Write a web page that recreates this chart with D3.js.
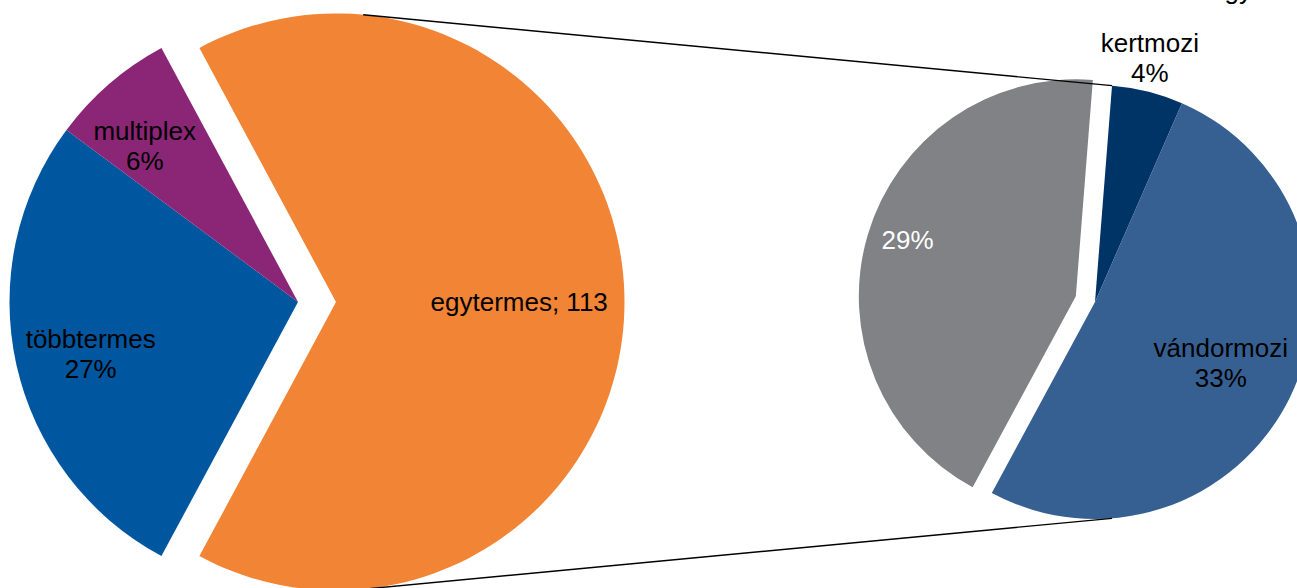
<!DOCTYPE html>
<html>
<head>
<meta charset="utf-8">
<script src="https://cdn.jsdelivr.net/npm/d3@7"></script>
<style>
  html, body { margin: 0; padding: 0; background: #ffffff; }
  svg { display: block; }
  text { font-family: "Liberation Sans", Arial, sans-serif; font-size: 26px; }
</style>
</head>
<body>
<svg id="chart" width="1297" height="588"></svg>
<script>
// ---- data ----
const mainCategories = ["egytermes", "többtermes", "multiplex"];
const mainValues = [113, 47, 12];
const mainLabels = [["egytermes; 113"], ["többtermes", "27%"], ["multiplex", "6%"]];

const subCategories = ["kertmozi", "vándormozi", "egyéb"];
const subValues = [6, 58, 49];
const subLabels = [["kertmozi", "4%"], ["vándormozi", "33%"], ["29%"]];

const mainColors = ["#F28435", "#00569F", "#8B2575"];
const subColors = ["#003366", "#366092", "#808285"];

// ---- layout ----
const W = 1297, H = 588;
const deg = Math.PI / 180;
const c1 = { x: 298, y: 302 }, r1 = 288.5, explode1 = 38;
const c2 = { x: 1095, y: 302 }, r2 = 217, explode2 = 20;
const subStart = 4.5 * deg;
const mainLabelPos = [{ f: 0.635, d: 0 }, { f: 0.741, d: -1.6 }, { f: 0.759, d: -3.6 }];
const subLabelPos = [{ f: 1.153, d: -1.4 }, { f: 0.645, d: 0 }, { f: 0.818, d: 2.2 }];
const subLabelFill = ["#000", "#000", "#fff"];
const lineH = 30;

const svg = d3.select("#chart");
svg.append("rect").attr("width", W).attr("height", H).attr("fill", "#fff");

const arc1 = d3.arc().innerRadius(0).outerRadius(r1);
const arc2 = d3.arc().innerRadius(0).outerRadius(r2);

// main pie: first slice (the "other" slice) centered on the right
const mainTotal = d3.sum(mainValues);
const otherSpan = mainValues[0] / mainTotal * 2 * Math.PI;
const mainStart = Math.PI / 2 - otherSpan / 2;
const pie1 = d3.pie().sort(null).value(d => d).startAngle(mainStart).endAngle(mainStart + 2 * Math.PI);
const pie2 = d3.pie().sort(null).value(d => d).startAngle(subStart).endAngle(subStart + 2 * Math.PI);

const mainArcs = pie1(mainValues);
const subArcs = pie2(subValues);

function offset(a, dist) {
  const m = (a.startAngle + a.endAngle) / 2;
  return { x: Math.sin(m) * dist, y: -Math.cos(m) * dist };
}

const explodeMain = i => i === 0 ? explode1 : 0;
const explodeSub = i => i === 2 ? explode2 : 0;

const g1 = svg.append("g");
mainArcs.forEach((a, i) => {
  const o = offset(a, explodeMain(i));
  g1.append("path")
    .attr("d", arc1(a))
    .attr("transform", `translate(${c1.x + o.x},${c1.y + o.y})`)
    .attr("fill", mainColors[i]);
});

const g2 = svg.append("g");
subArcs.forEach((a, i) => {
  const o = offset(a, explodeSub(i));
  g2.append("path")
    .attr("d", arc2(a))
    .attr("transform", `translate(${c2.x + o.x},${c2.y + o.y})`)
    .attr("fill", subColors[i]);
});

// connector lines: tangent from the exploded "other" slice to the sub pie top/bottom
const oc = offset(mainArcs[0], explode1);
const oC = { x: c1.x + oc.x, y: c1.y + oc.y };
function tangentPoint(P, C, r, upper) {
  const dx = P.x - C.x, dy = P.y - C.y;
  const d = Math.hypot(dx, dy);
  const phi = Math.atan2(dy, dx);
  const alpha = Math.acos(r / d);
  const t = upper ? phi - alpha : phi + alpha;
  return { x: C.x + r * Math.cos(t), y: C.y + r * Math.sin(t) };
}
const pTop = { x: c2.x + Math.sin(subStart) * r2, y: c2.y - Math.cos(subStart) * r2 };
const pBot = { x: c2.x + Math.sin(Math.PI - subStart) * r2, y: c2.y - Math.cos(Math.PI - subStart) * r2 };
[[tangentPoint(pTop, oC, r1, true), pTop], [tangentPoint(pBot, oC, r1, false), pBot]].forEach(([a, b]) => {
  svg.append("line")
    .attr("x1", a.x).attr("y1", a.y).attr("x2", b.x).attr("y2", b.y)
    .attr("stroke", "#000").attr("stroke-width", 1.4);
});

// labels
function drawLabel(lines, cx, cy, fill) {
  const t = svg.append("text").attr("text-anchor", "middle").attr("fill", fill);
  lines.forEach((s, k) => {
    t.append("tspan").attr("x", cx)
      .attr("y", cy + (k - (lines.length - 1) / 2) * lineH + 9)
      .text(s);
  });
}
mainArcs.forEach((a, i) => {
  const o = offset(a, explodeMain(i));
  const m = (a.startAngle + a.endAngle) / 2 + mainLabelPos[i].d * deg;
  const R = r1 * mainLabelPos[i].f;
  drawLabel(mainLabels[i], c1.x + o.x + Math.sin(m) * R, c1.y + o.y - Math.cos(m) * R, "#000");
});
subArcs.forEach((a, i) => {
  const o = offset(a, explodeSub(i));
  const m = (a.startAngle + a.endAngle) / 2 + subLabelPos[i].d * deg;
  const R = r2 * subLabelPos[i].f;
  drawLabel(subLabels[i], c2.x + o.x + Math.sin(m) * R, c2.y + o.y - Math.cos(m) * R, subLabelFill[i]);
});

// partially visible label at the top edge (cut off in the source, only descenders show)
svg.append("text").attr("x", 1210).attr("y", -1).attr("fill", "#000").text("egyéb");
</script>
</body>
</html>
